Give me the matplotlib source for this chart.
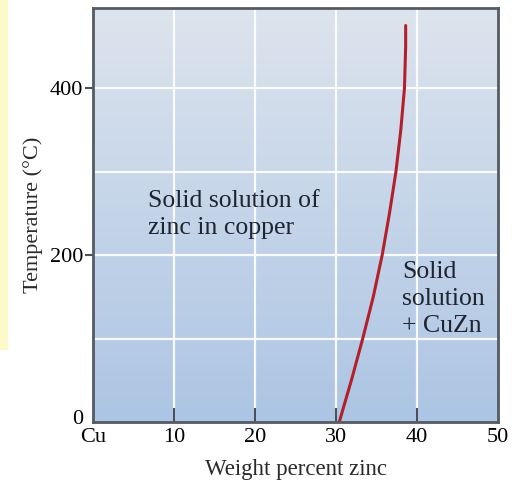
import numpy as np
import matplotlib.pyplot as plt
import matplotlib.transforms as mtransforms
from matplotlib.patches import Rectangle

# solvus line: temperature (C) vs weight percent zinc
temp_c = [0, 50, 100, 150, 200, 250, 300, 350, 400, 450, 475]
wt_zn = [30.4, 31.9, 33.3, 34.6, 35.7, 36.6, 37.4, 38.0, 38.45, 38.6, 38.6]

x_ticks = [0, 10, 20, 30, 40, 50]
x_labels = ['Cu', '10', '20', '30', '40', '50']
y_ticks = [0, 200, 400]
x_grid = [10, 20, 30, 40]
y_grid = [100, 200, 300, 400]

plt.rcParams['font.family'] = ['Liberation Serif', 'DejaVu Serif']

fig = plt.figure(figsize=(5.12, 4.8), dpi=100)
fig.patch.set_facecolor('white')
# yellow slide box cut off at the left edge
fig.patches.append(Rectangle((0, 0.27), 0.016, 0.73, transform=fig.transFigure,
                             facecolor='#fdf9c8', edgecolor='none', zorder=0))

ax = fig.add_axes([0.1816, 0.1208, 0.7911, 0.8625])
ax.set_xlim(0, 50)
ax.set_ylim(0, 496)

# vertical gradient background
grad = np.linspace(0, 1, 256).reshape(-1, 1)
top = np.array([221, 228, 237]) / 255
bot = np.array([172, 197, 228]) / 255
img = bot + (top - bot) * grad
ax.imshow(img.reshape(256, 1, 3), extent=[0, 50, 0, 496], origin='lower',
          aspect='auto', zorder=0)

for gx in x_grid:
    ax.axvline(gx, color='white', lw=1.6, alpha=0.9, zorder=1)
for gy in y_grid:
    ax.axhline(gy, color='white', lw=1.6, alpha=0.9, zorder=1)

ax.plot(wt_zn, temp_c, color='#b3202b', lw=2.2, solid_capstyle='round', zorder=3)

ax.text(6.8, 278, 'Solid solution of\nzinc in copper', fontsize=18.5, color='#1e2430',
        va='top', ha='left', linespacing=1.3, zorder=4)
ax.text(38.2, 193, 'Solid\nsolution\n+ CuZn', fontsize=18.5, color='#1e2430',
        va='top', ha='left', linespacing=1.3, zorder=4)

ax.set_xticks(x_ticks)
ax.set_xticklabels(x_labels)
ax.set_yticks(y_ticks)
ax.tick_params(axis='x', direction='in', length=10, width=1.5, color='#4a5058',
               labelsize=16, pad=4)
ax.tick_params(axis='y', direction='out', length=6, width=1.5, color='#4a5058',
               labelsize=16, pad=1)
ax.xaxis.get_major_ticks()[0].tick1line.set_visible(False)
ax.xaxis.get_major_ticks()[-1].tick1line.set_visible(False)
ax.yaxis.get_major_ticks()[0].tick1line.set_visible(False)

# lift the y "0" so it sits above the "Cu" label
lbl0 = ax.get_yticklabels()[0]
lbl0.set_transform(lbl0.get_transform() +
                   mtransforms.ScaledTranslation(0, 3.5 / 72, fig.dpi_scale_trans))

for s in ax.spines.values():
    s.set_color('#555b63')
    s.set_linewidth(2)
    s.set_zorder(5)

ax.set_xlabel('Weight percent zinc', fontsize=16.5, labelpad=9, color='#2a2a2a')
ax.set_ylabel('Temperature (°C)', fontsize=16, labelpad=5, color='#2a2a2a')

fig.savefig('out.png', dpi=100)
